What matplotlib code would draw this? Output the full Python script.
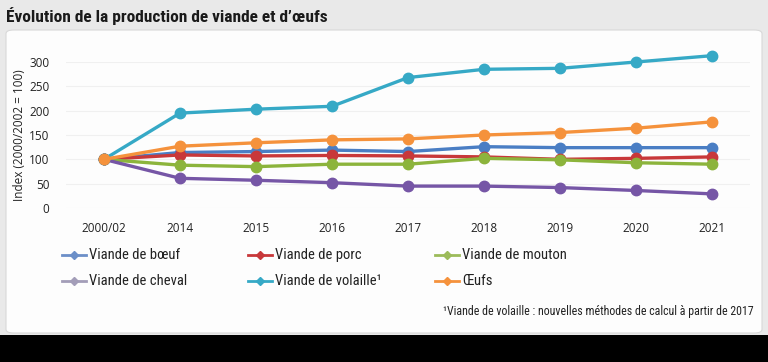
import matplotlib
matplotlib.use("Agg")
import matplotlib.pyplot as plt
from matplotlib.patches import Rectangle, FancyBboxPatch
from matplotlib.lines import Line2D

categories = ["2000/02", "2014", "2015", "2016", "2017", "2018", "2019", "2020", "2021"]
boeuf    = [100, 114, 116, 119, 116, 126, 124, 124, 124]
porc     = [100, 109, 107, 108, 107, 105, 100, 102, 105]
mouton   = [100, 88, 85, 90, 90, 102, 99, 93, 90]
cheval   = [100, 61, 57, 52, 45, 45, 42, 36, 29]
volaille = [100, 195, 203, 209, 268, 285, 287, 300, 313]
oeufs    = [100, 127, 134, 140, 142, 150, 155, 164, 177]
yticks = [0, 50, 100, 150, 200, 250, 300]

series = [
    ("Viande de bœuf", boeuf, "#4a7ec4", "#6c8fc8"),
    ("Viande de porc", porc, "#c8383a", "#c8383a"),
    ("Viande de mouton", mouton, "#8cb43c", "#9cbb5a"),
    ("Viande de cheval", cheval, "#7656a6", "#a39db8"),
    ("Viande de volaille\u00b9", volaille, "#36a9c6", "#36a9c6"),
    ("Œufs", oeufs, "#f5923c", "#f5923c"),
]
draw_order = [3, 2, 1, 0, 4, 5]

W, H = 768, 362
fig = plt.figure(figsize=(W / 100, H / 100), dpi=100)
fig.patch.set_facecolor("#e9e9e9")

def fx(px):
    return px / W

def fy(py):
    return 1 - py / H

panel = FancyBboxPatch((fx(6), fy(333)), fx(756), 303 / H,
                       boxstyle="round,pad=0,rounding_size=0.01",
                       transform=fig.transFigure, facecolor="#fdfdfd",
                       edgecolor="#d8d8d8", linewidth=0.8, zorder=0)
fig.add_artist(panel)
fig.add_artist(Rectangle((0, 0), 1, fy(335), transform=fig.transFigure,
                         facecolor="black", edgecolor="none", zorder=1))

cond = ["Roboto Condensed", "Roboto", "DejaVu Sans"]
tickfam = ["Open Sans", "DejaVu Sans"]

fig.text(fx(6), fy(16), "Évolution de la production de viande et d’œufs",
         fontsize=12.5, fontweight="bold", family=cond, ha="left", va="center",
         color="#1a1a1a")

ax = fig.add_axes([fx(66), fy(208), fx(750 - 66), 146 / H])
ax.set_facecolor("none")
x = list(range(len(categories)))
for i in draw_order:
    name, vals, col, _ = series[i]
    ax.plot(x, vals, color=col, linewidth=2.4, marker="o", markersize=7.5,
            clip_on=False, zorder=3 + i)

ax.set_xlim(-0.5, len(categories) - 0.5)
ax.set_ylim(0, 300)
ax.set_yticks(yticks)
ax.set_xticks(x)
ax.set_xticklabels(categories)
ax.tick_params(axis="both", length=0, labelsize=8.5, colors="#222222")
ax.tick_params(axis="x", pad=10)
ax.tick_params(axis="y", pad=12)
for lbl in ax.get_xticklabels() + ax.get_yticklabels():
    lbl.set_family(tickfam)
for s in ax.spines.values():
    s.set_visible(False)
ax.grid(axis="y", color="#f0f0f0", linewidth=0.8)
ax.set_axisbelow(True)
ax.set_ylabel("Index (2000/2002 = 100)", fontsize=8.5, color="#222222", labelpad=2,
              family=tickfam)

col_line_x = [62, 248, 435]
row_y = [255, 281]
for k, (name, vals, col, lcol) in enumerate(series):
    r, c = divmod(k, 3)
    x0 = col_line_x[c]
    yy = fy(row_y[r])
    fig.add_artist(Line2D([fx(x0), fx(x0 + 24)], [yy, yy], transform=fig.transFigure,
                          color=lcol, linewidth=2))
    fig.add_artist(Line2D([fx(x0 + 12)], [yy], transform=fig.transFigure,
                          color=lcol, marker="D", markersize=4.5, linewidth=0))
    fig.text(fx(x0 + 27), yy, name, fontsize=10.5, family=cond,
             ha="left", va="center", color="#222222")

fig.text(fx(754), fy(312), "\u00b9Viande de volaille : nouvelles méthodes de calcul à partir de 2017",
         fontsize=8.6, family=cond, ha="right", va="center", color="#222222")

fig.savefig("out.png", dpi=100, facecolor=fig.get_facecolor())
